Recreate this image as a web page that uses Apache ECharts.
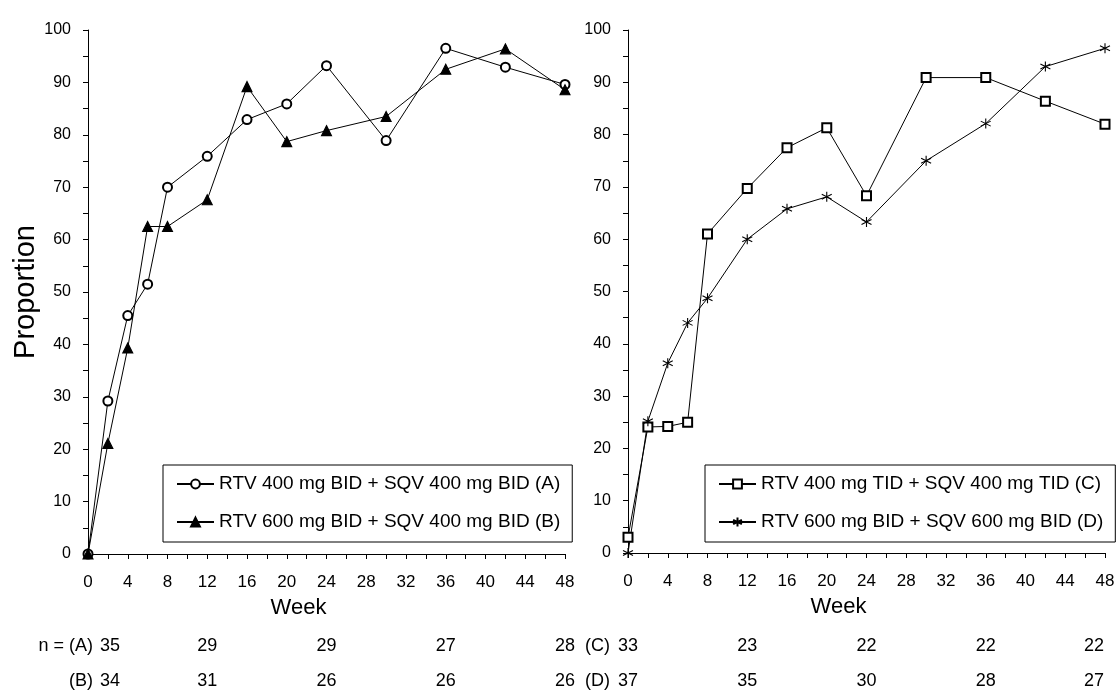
<!DOCTYPE html>
<html>
<head>
<meta charset="utf-8">
<script src="https://cdn.jsdelivr.net/npm/echarts@6/dist/echarts.min.js"></script>
<style>
  html, body { margin: 0; padding: 0; background: #fff; }
  #chart { width: 1118px; height: 690px; }
</style>
</head>
<body>
<div id="chart"></div>
<script>
// weeks where proportions were measured
const weeks = [0, 2, 4, 6, 8, 12, 16, 20, 24, 30, 36, 42, 48];

// proportion (%) per group
const propA = [0, 29.2, 45.5, 51.5, 70.0, 75.9, 82.9, 85.9, 93.2, 78.9, 96.5, 92.9, 89.6];
const propB = [0, 21.1, 39.3, 62.5, 62.5, 67.6, 89.2, 78.7, 80.8, 83.5, 92.5, 96.4, 88.6];
const propC = [3.0, 24.1, 24.2, 25.0, 61.0, 69.7, 77.5, 81.3, 68.3, 90.9, 90.9, 86.4, 82.0];
const propD = [0, 25.2, 36.3, 44.0, 48.7, 60.0, 65.8, 68.1, 63.3, 75.0, 82.1, 93.0, 96.5];

// patients at risk
const nWeeks = [0, 12, 24, 36, 48];
const nA = [35, 29, 29, 27, 28];
const nB = [34, 31, 26, 26, 26];
const nC = [33, 23, 22, 22, 22];
const nD = [37, 35, 30, 28, 27];

const nameA = 'RTV 400 mg BID + SQV 400 mg BID (A)';
const nameB = 'RTV 600 mg BID + SQV 400 mg BID (B)';
const nameC = 'RTV 400 mg TID + SQV 400 mg TID (C)';
const nameD = 'RTV 600 mg BID + SQV 600 mg BID (D)';

const FONT = "'Liberation Sans', Arial, sans-serif";
const starPath = 'path://M5 0L5 10M0.7 2.5L9.3 7.5M0.7 7.5L9.3 2.5';

function pairs(vals) {
  return weeks.map((w, i) => [w, vals[i]]);
}

function weekAxis(gridIndex) {
  return {
    type: 'value', gridIndex: gridIndex, min: 0, max: 48, interval: 4,
    name: 'Week', nameLocation: 'middle', nameGap: 43,
    nameTextStyle: { fontSize: 22, color: '#000', fontFamily: FONT, padding: [0, 56, 0, 0] },
    axisLine: { show: true, onZero: false, lineStyle: { color: '#000', width: 1 } },
    axisTick: { show: true, length: 5, lineStyle: { color: '#000' } },
    minorTick: { show: true, splitNumber: 2, length: 5, lineStyle: { color: '#000' } },
    splitLine: { show: false },
    axisLabel: { fontSize: 17, color: '#000', fontFamily: FONT, margin: 20, showMinLabel: true, showMaxLabel: true }
  };
}

function propAxis(gridIndex, withName) {
  return {
    type: 'value', gridIndex: gridIndex, min: 0, max: 100, interval: 10,
    name: withName ? 'Proportion' : '', nameLocation: 'middle', nameGap: 46,
    nameTextStyle: { fontSize: 29, color: '#000', fontFamily: FONT },
    axisLine: { show: true, lineStyle: { color: '#000', width: 1 } },
    axisTick: { show: true, length: 5, lineStyle: { color: '#000' } },
    minorTick: { show: true, splitNumber: 2, length: 5, lineStyle: { color: '#000' } },
    splitLine: { show: false },
    axisLabel: { fontSize: 16, color: '#000', fontFamily: FONT, margin: 17 }
  };
}

// extra x axes used as the "n =" rows under each panel
function countAxis(gridIndex, offset, name, nameGap, counts, firstPad, lastPad) {
  const last = nWeeks.length - 1;
  return {
    type: 'value', gridIndex: gridIndex, min: 0, max: 48, interval: 12,
    position: 'bottom', offset: offset,
    name: name, nameLocation: 'start', nameGap: nameGap,
    nameTextStyle: { fontSize: 18, color: '#000', fontFamily: FONT, align: 'right', verticalAlign: 'middle' },
    axisLine: { show: false, onZero: false }, axisTick: { show: false }, splitLine: { show: false },
    axisLabel: {
      fontSize: 18, color: '#000', fontFamily: FONT, margin: 0, verticalAlign: 'middle',
      showMinLabel: true, showMaxLabel: true,
      formatter: function (v) {
        const i = nWeeks.indexOf(v);
        if (i < 0) return '';
        const s = String(counts[i]);
        if (i === 0 && firstPad) return '{f|' + s + '}';
        if (i === last && lastPad) return '{l|' + s + '}';
        return s;
      },
      rich: {
        f: { fontSize: 18, fontFamily: FONT, color: '#000', padding: [0, 0, 0, firstPad] },
        l: { fontSize: 18, fontFamily: FONT, color: '#000', padding: [0, lastPad, 0, 0] }
      }
    }
  };
}

function lineSeries(name, vals, xi, yi, symbol, size, fill) {
  return {
    name: name, type: 'line', xAxisIndex: xi, yAxisIndex: yi,
    data: pairs(vals), symbol: symbol, symbolSize: size, showAllSymbol: true,
    lineStyle: { color: '#000', width: 1 },
    itemStyle: { color: fill, borderColor: '#000', borderWidth: 1.1 },
    emphasis: { disabled: true }, z: 3
  };
}

function legendBox(left, names) {
  return {
    orient: 'vertical', left: left, top: 465,
    data: names,
    backgroundColor: '#fff', borderColor: '#000', borderWidth: 1,
    padding: [9, 12, 10, 13], itemGap: 18, itemWidth: 37, itemHeight: 11,
    selectedMode: false,
    textStyle: { fontSize: 19, color: '#000', fontFamily: FONT, lineHeight: 20 }
  };
}

const chart = echarts.init(document.getElementById('chart'), null, { renderer: 'canvas' });
chart.setOption({
  animation: false,
  backgroundColor: '#fff',
  grid: [
    { left: 88, top: 30, width: 477, height: 525 },
    { left: 628, top: 30, width: 477, height: 524 }
  ],
  xAxis: [
    weekAxis(0),
    weekAxis(1),
    countAxis(0, 92, 'n = (A)', -5, nA, 44, 0),
    countAxis(0, 127, '(B)', -5, nB, 44, 0),
    countAxis(1, 93, '(C)', 18, nC, 0, 22),
    countAxis(1, 128, '(D)', 18, nD, 0, 22)
  ],
  yAxis: [propAxis(0, true), propAxis(1, false)],
  legend: [legendBox(163, [nameA, nameB]), legendBox(705, [nameC, nameD])],
  series: [
    lineSeries(nameA, propA, 0, 0, 'emptyCircle', 9, '#000'),
    lineSeries(nameB, propB, 0, 0, 'triangle', 10, '#000'),
    lineSeries(nameC, propC, 1, 1, 'emptyRect', 9, '#000'),
    lineSeries(nameD, propD, 1, 1, starPath, 10, '#000')
  ]
});
</script>
</body>
</html>
